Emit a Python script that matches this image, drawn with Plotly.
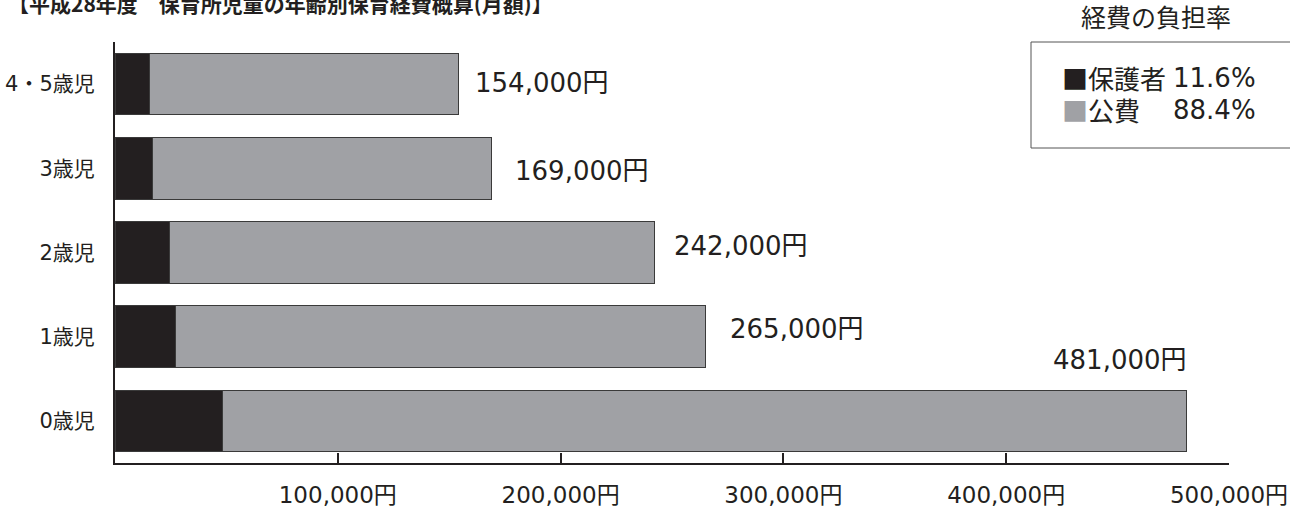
import plotly.graph_objects as go

# ---- data ----
categories = ["4・5歳児", "3歳児", "2歳児", "1歳児", "0歳児"]
totals = [154000, 169000, 242000, 265000, 481000]
parent_cost = [15400, 16900, 24400, 27200, 48300]      # 保護者 (black)
public_cost = [138600, 152100, 217600, 237800, 432700]  # 公費 (gray)
total_labels = ["154,000円", "169,000円", "242,000円", "265,000円", "481,000円"]
x_tickvals = [100000, 200000, 300000, 400000, 500000]
x_ticktext = ["100,000円", "200,000円", "300,000円", "400,000円", "500,000円"]
legend_title = "経費の負担率"
legend_names = ["保護者", "公費"]
legend_rates = ["11.6%", "88.4%"]
title_text = "【平成28年度　保育所児童の年齢別保育経費概算(月額)】"

BLACK = "#231f20"
GRAY = "#a0a1a5"
FONT = "DejaVu Sans, Noto Sans CJK JP, sans-serif"
TXT = "#231f20"

fig = go.Figure()
fig.add_trace(go.Bar(y=categories, x=parent_cost, orientation="h", name=legend_names[0],
                     marker=dict(color=BLACK, line=dict(color="#3a3a3a", width=1)),
                     hoverinfo="x+y"))
fig.add_trace(go.Bar(y=categories, x=public_cost, orientation="h", name=legend_names[1],
                     marker=dict(color=GRAY, line=dict(color="#3a3a3a", width=1)),
                     hoverinfo="x+y"))

# label placement tweaks (px) mirroring the reference's hand placement
gaps = [15, 21, 18, 23]
vshift = [1, -3, 7, 8]
for i in range(4):
    fig.add_annotation(x=totals[i], y=categories[i], xref="x", yref="y",
                       text=total_labels[i], showarrow=False, xanchor="left",
                       xshift=gaps[i], yshift=vshift[i],
                       font=dict(family=FONT, size=26, color=TXT))
fig.add_annotation(x=totals[4], y=categories[4], xref="x", yref="y",
                   text=total_labels[4], showarrow=False, xanchor="right",
                   xshift=2, yshift=61, font=dict(family=FONT, size=26, color=TXT))

# pixel -> paper helpers
L, R, T, B = 115, 61, 42, 45
W, H = 1290 - L - R, 508 - T - B
def px(x):
    return (x - L) / W
def py(y):
    return (508 - B - y) / H

# legend box
fig.add_shape(type="rect", xref="paper", yref="paper",
              x0=px(1031), x1=px(1300), y0=py(148), y1=py(42),
              line=dict(color="#555555", width=1), fillcolor="rgba(0,0,0,0)")
fig.add_annotation(xref="paper", yref="paper", x=px(1156), y=py(18),
                   text=legend_title, showarrow=False, xanchor="center", yanchor="middle",
                   font=dict(family=FONT, size=25, color=TXT))
for k, (nm, rate, col) in enumerate(zip(legend_names, legend_rates, [BLACK, GRAY])):
    yy = py(78 + 32 * k)
    fig.add_annotation(xref="paper", yref="paper", x=px(1060), y=yy,
                       text=f'<span style="font-family:Noto Sans CJK JP;color:{col}">■</span>{nm}',
                       showarrow=False, xanchor="left", yanchor="middle",
                       font=dict(family=FONT, size=26, color=TXT))
    fig.add_annotation(xref="paper", yref="paper", x=px(1258), y=yy,
                       text=rate, showarrow=False, xanchor="right", yanchor="middle",
                       font=dict(family=FONT, size=26, color=TXT))

# partially visible title at the very top
fig.add_annotation(xref="paper", yref="paper", x=px(6), y=py(20),
                   text=f"<b>{title_text}</b>", showarrow=False,
                   xanchor="left", yanchor="bottom",
                   font=dict(family="Noto Sans CJK JP, sans-serif", size=21, color=TXT))

fig.update_layout(
    barmode="stack", bargap=0.27, showlegend=False,
    width=1290, height=508, margin=dict(l=L, r=R, t=T, b=B, autoexpand=False),
    paper_bgcolor="white", plot_bgcolor="white",
    font=dict(family=FONT, color=TXT),
)
fig.update_xaxes(range=[0, 500000], tickvals=x_tickvals, ticktext=x_ticktext,
                 ticks="inside", ticklen=10, tickwidth=2, tickcolor=BLACK,
                 showline=True, linewidth=2, linecolor=BLACK, showgrid=False,
                 zeroline=False, tickfont=dict(family=FONT, size=23, color=TXT),
                 ticklabelstandoff=10)
fig.update_yaxes(categoryorder="array", categoryarray=categories, range=[4.5, -0.5],
                 ticks="", showline=True, linewidth=2, linecolor=BLACK, showgrid=False,
                 tickfont=dict(family=FONT, size=21, color=TXT), ticklabelstandoff=14)

fig.write_html("out.html", config={"displayModeBar": False},
               post_script="document.body.style.margin='0';document.body.style.overflow='hidden';")
